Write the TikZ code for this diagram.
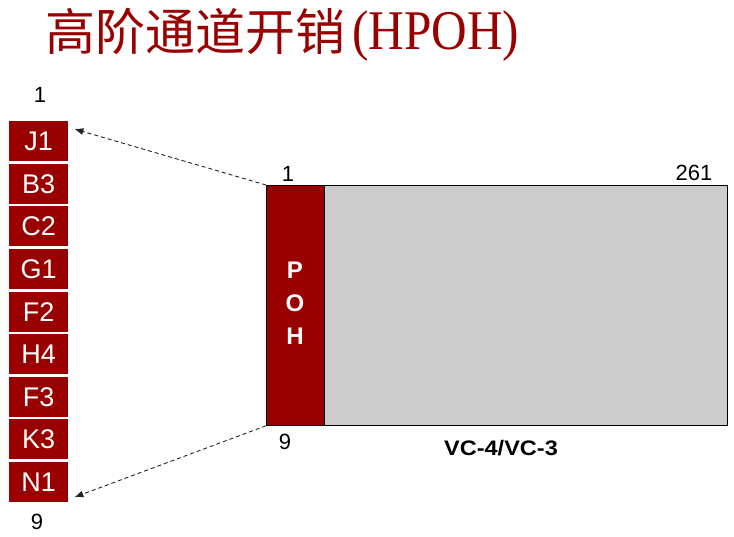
\documentclass[tikz,border=0pt]{standalone}
\usepackage{fontspec}
\setmainfont{Liberation Sans}
\newfontfamily\cjkfont{Noto Sans CJK SC}
\newfontfamily\serifttl{Liberation Serif}
\usetikzlibrary{arrows.meta}
\definecolor{ohred}{HTML}{990000}
\definecolor{ohgray}{HTML}{CCCCCC}
\definecolor{ohline}{HTML}{222222}
\begin{document}
\begin{tikzpicture}[x=1pt,y=-1pt,
  bytebox/.style={rectangle, fill=ohred, text=white, minimum width=59pt, minimum height=40pt, inner sep=0pt, font=\fontsize{27}{30}\selectfont},
  numlabel/.style={inner sep=0pt, font=\fontsize{22}{24}\selectfont},
  dasharrow/.style={draw=ohline, line width=0.9pt, dash pattern=on 4pt off 3pt, -{Latex[length=9pt,width=7pt]}}
]
\useasboundingbox (0,0) rectangle (734,537);
% title
\node[anchor=base west, inner sep=0pt, text=ohred, font=\cjkfont\fontsize{50}{56}\selectfont] (title) at (45,51) {高阶通道开销};
\node[anchor=base west, inner sep=0pt, text=ohred, font=\serifttl\fontsize{56}{60}\selectfont] (titlelat) at (352,50) {\scalebox{0.88}[1]{(HPOH)}};
% left column
\foreach \lab [count=\i from 0] in {J1,B3,C2,G1,F2,H4,F3,K3,N1}{
  \node[bytebox, anchor=north west] (\lab) at (9,121+42.6*\i) {\lab};
}
\node[numlabel] (topone) at (40,95) {1};
\node[numlabel] (botnine) at (37,522) {9};
% main frame
\node[anchor=north west, draw=black, line width=0.8pt, fill=ohred, minimum width=58pt, minimum height=240pt, inner sep=0pt] (poh) at (266,185) {};
\node[anchor=north west, draw=black, line width=0.8pt, fill=ohgray, minimum width=403pt, minimum height=240pt, inner sep=0pt] (vc) at (324,185) {};
\node[text=white, align=center, inner sep=0pt, font=\bfseries\fontsize{24}{33}\selectfont] (pohtext) at (295,303) {P\\O\\H};
\node[numlabel] (colone) at (288,174) {1};
\node[numlabel] (colend) at (694,173) {261};
\node[numlabel] (rownine) at (285,442) {9};
\node[inner sep=0pt, font=\bfseries\fontsize{21}{24}\selectfont] (vcname) at (501,448) {\scalebox{1.12}[1]{VC-4/VC-3}};
% arrows
\draw[dasharrow] (poh.north west) -- ([xshift=6pt,yshift=-8pt]J1.north east);
\draw[dasharrow] (poh.south west) -- ([xshift=6pt,yshift=5pt]N1.south east);
\end{tikzpicture}
\end{document}
